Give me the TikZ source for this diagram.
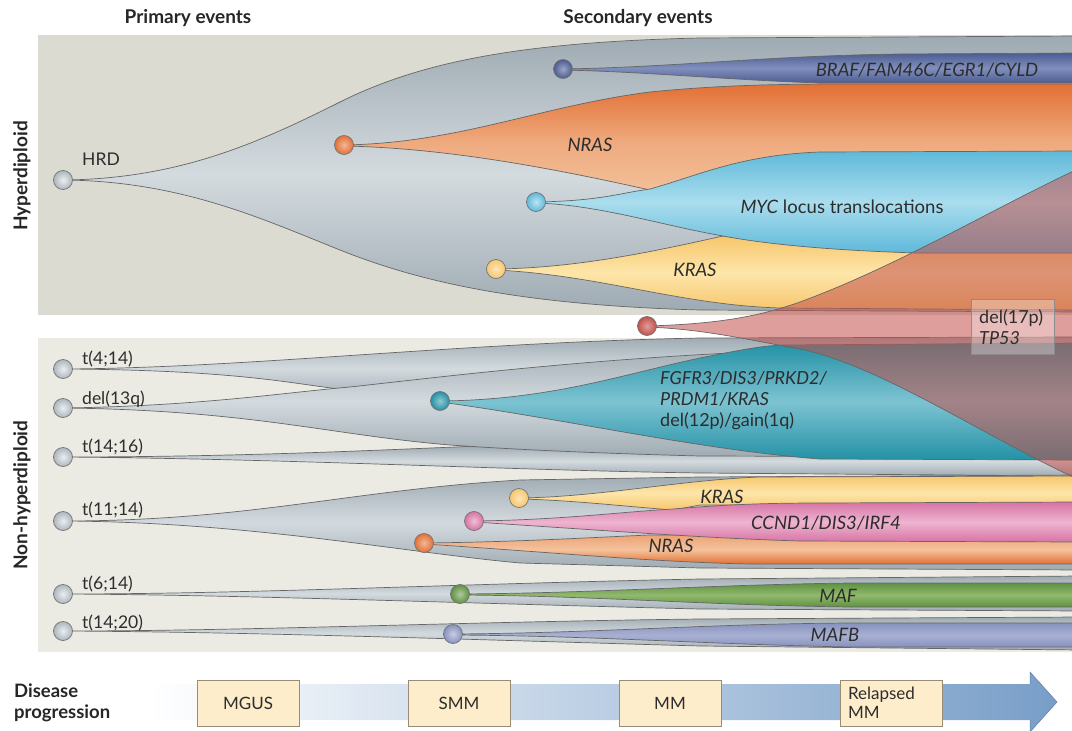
\documentclass[tikz,border=0pt]{standalone}
\usepackage{fontspec}
\setmainfont{Lato}
\begin{document}
\definecolor{panelA}{RGB}{219,219,209}
\definecolor{panelB}{RGB}{235,235,227}
\definecolor{greyD}{RGB}{158,170,178}
\definecolor{greyL}{RGB}{212,219,223}
\definecolor{blueD}{RGB}{75,92,145}
\definecolor{blueL}{RGB}{128,143,188}
\definecolor{orD}{RGB}{226,112,52}
\definecolor{orL}{RGB}{244,195,158}
\definecolor{cyD}{RGB}{95,185,218}
\definecolor{cyL}{RGB}{170,221,238}
\definecolor{yeD}{RGB}{247,198,108}
\definecolor{yeL}{RGB}{253,230,170}
\definecolor{redT}{RGB}{195,80,75}
\definecolor{teD}{RGB}{35,145,165}
\definecolor{teL}{RGB}{125,195,210}
\definecolor{piD}{RGB}{215,115,165}
\definecolor{piL}{RGB}{238,180,208}
\definecolor{grD}{RGB}{95,145,65}
\definecolor{grL}{RGB}{145,185,110}
\definecolor{laD}{RGB}{135,145,190}
\definecolor{laL}{RGB}{168,176,210}
\definecolor{txt}{RGB}{45,45,45}
\definecolor{stagefill}{RGB}{253,237,202}
\definecolor{stageline}{RGB}{150,140,120}
\definecolor{arrowblue}{RGB}{120,158,200}
\begin{tikzpicture}[x=1pt,y=-1pt,
  lab/.style={font=\fontsize{17.5}{20}\selectfont, text=txt, inner sep=0pt},
  ilab/.style={font=\fontsize{18.5}{21}\selectfont\itshape, text=txt, inner sep=0pt},
  head/.style={font=\fontsize{19}{22}\selectfont\bfseries, text=black!85, inner sep=0pt},
  edgeline/.style={draw=black!60, line width=0.7pt},
  greyshape/.style={edgeline, top color=greyD, bottom color=greyD, middle color=greyL},
  dot/.style={circle, minimum size=19pt, inner sep=0pt, draw=black!55, line width=0.7pt, shading=radial},
  stagebox/.style={draw=stageline, fill=stagefill, line width=0.6pt, minimum width=102pt, minimum height=46pt, font=\fontsize{17}{19}\selectfont, text=txt, inner sep=0pt},
]
\useasboundingbox (0,0) rectangle (1072,731);
\clip (0,0) rectangle (1072,731);

% panels
\fill[panelA] (38,35) rectangle (1072,315);
\fill[panelB] (38,338) rectangle (1072,652);

% ---------- Hyperdiploid ----------
\draw[greyshape] (63,180) .. controls (180,179) and (260,142) .. (340,102) .. controls (420,62) and (520,42) .. (700,38) -- (1080,36) -- (1080,312) -- (700,310) .. controls (520,305) and (420,282) .. (340,250) .. controls (260,218) and (180,181) .. (63,180) -- cycle;

\draw[edgeline, top color=blueD, bottom color=blueD, middle color=blueL] (563,69) .. controls (680,67) and (760,56) .. (900,54) -- (1080,53) -- (1080,83) -- (820,83) .. controls (730,80) and (650,72) .. (563,70) -- cycle;

\draw[edgeline, top color=orD, bottom color=orL, middle color=orL!70!orD] (344,145) .. controls (460,143) and (540,106) .. (650,92) .. controls (720,85) and (780,84) .. (850,84) -- (1080,84) -- (1080,200) -- (660,200) -- (650,190) .. controls (560,170) and (450,148) .. (344,146) -- cycle;

\draw[edgeline, top color=yeD, bottom color=yeD, middle color=yeL] (496,269) .. controls (580,268) and (660,250) .. (723,236) -- (1080,236) -- (1080,310) -- (780,308) .. controls (680,305) and (600,275) .. (496,270) -- cycle;

\draw[edgeline, top color=cyD, bottom color=cyD, middle color=cyL] (536,202) .. controls (600,201) and (620,193) .. (650,189) .. controls (700,175) and (740,155) .. (820,152) -- (1080,151) -- (1080,253) -- (917,253) .. controls (820,250) and (760,243) .. (723,236) .. controls (660,225) and (600,205) .. (536,203) -- cycle;

% ---------- Non-hyperdiploid ----------
\draw[greyshape] (63,369) .. controls (250,370) and (300,386) .. (350,390) .. controls (420,396) and (500,400) .. (1080,400) -- (1080,337) -- (700,338) .. controls (450,343) and (250,368) .. (63,369) -- cycle;

\draw[greyshape] (63,457) .. controls (250,457) and (400,449) .. (480,446) -- (1080,446) -- (1080,476) -- (700,473) .. controls (500,470) and (300,459) .. (63,457) -- cycle;

\draw[greyshape] (63,408) .. controls (200,406) and (280,393) .. (350,387) .. controls (450,376) and (600,357) .. (800,350) -- (1080,345) -- (1080,457) -- (700,456) .. controls (550,452) and (480,447) .. (450,445) .. controls (330,435) and (250,410) .. (63,408) -- cycle;

\draw[edgeline, top color=teD, bottom color=teD, middle color=teL] (440,401) .. controls (550,400) and (620,375) .. (700,358) .. controls (740,350) and (760,346) .. (783,345) -- (1080,343) -- (1080,460) -- (820,459) .. controls (700,450) and (560,418) .. (440,402) -- cycle;

\draw[greyshape] (63,521) .. controls (250,521) and (350,490) .. (520,480) -- (700,477) -- (1080,475) -- (1080,570) -- (700,568) -- (520,563) .. controls (400,552) and (250,522) .. (63,521) -- cycle;

\draw[edgeline, top color=yeD, bottom color=yeD, middle color=yeL] (519,498) .. controls (600,497) and (680,480) .. (760,477) -- (1080,476) -- (1080,505) -- (700,505) -- (673,510) .. controls (620,506) and (570,500) .. (519,499) -- cycle;

\draw[edgeline, top color=orL!60!orD, bottom color=orD, middle color=orL] (424,543) .. controls (520,542) and (600,537) .. (650,535) -- (1080,535) -- (1080,564) -- (750,564) .. controls (650,562) and (550,552) .. (424,544) -- cycle;

\draw[edgeline, top color=piD, bottom color=piD, middle color=piL] (474,521) .. controls (560,520) and (620,512) .. (673,509) .. controls (720,505) and (760,503) .. (820,503) -- (1080,502) -- (1080,542) -- (800,541) .. controls (700,538) and (600,530) .. (474,522) -- cycle;

\draw[greyshape] (63,594) .. controls (250,594) and (450,584) .. (700,579) -- (1080,576) -- (1080,611) -- (700,609) .. controls (450,603) and (250,595) .. (63,594) -- cycle;

\draw[edgeline, top color=grD, bottom color=grD, middle color=grL] (460,594) .. controls (600,593) and (700,585) .. (850,583) -- (1080,583) -- (1080,607) -- (850,607) .. controls (700,605) and (600,596) .. (460,595) -- cycle;

\draw[greyshape] (63,631) .. controls (250,631) and (450,622) .. (700,619) -- (1080,617) -- (1080,650) -- (700,646) .. controls (450,639) and (250,632) .. (63,631) -- cycle;

\draw[edgeline, top color=laD, bottom color=laD, middle color=laL] (453,634) .. controls (600,633) and (700,624) .. (850,623) -- (1080,623) -- (1080,647) -- (850,647) .. controls (700,644) and (600,636) .. (453,635) -- cycle;

% ---------- TP53 (translucent) ----------
\draw[draw=black!60, line width=0.7pt, fill=redT, fill opacity=0.55] (647,326) .. controls (720,324) and (760,316) .. (800,302) .. controls (900,265) and (990,210) .. (1080,168) -- (1080,480) .. controls (990,440) and (880,365) .. (800,349) .. controls (740,338) and (700,329) .. (647,327) -- cycle;

% ---------- dots ----------
\node[dot, inner color=white!80!greyD, outer color=greyD!85!white] (hrd) at (63,180) {};
\node[dot, inner color=orD!50!white, outer color=orD] (nras1) at (344,145) {};
\node[dot, inner color=blueD!55!white, outer color=blueD] (braf) at (563,69) {};
\node[dot, inner color=cyD!40!white, outer color=cyD] (myc) at (536,202) {};
\node[dot, inner color=yeD!45!white, outer color=yeD] (kras1) at (496,269) {};
\node[dot, inner color=redT!55!white, outer color=redT] (tp53) at (647,326) {};
\node[dot, inner color=white!80!greyD, outer color=greyD!85!white] (t414) at (63,369) {};
\node[dot, inner color=white!80!greyD, outer color=greyD!85!white] (d13q) at (63,408) {};
\node[dot, inner color=white!80!greyD, outer color=greyD!85!white] (t1416) at (63,457) {};
\node[dot, inner color=white!80!greyD, outer color=greyD!85!white] (t1114) at (63,521) {};
\node[dot, inner color=white!80!greyD, outer color=greyD!85!white] (t614) at (63,594) {};
\node[dot, inner color=white!80!greyD, outer color=greyD!85!white] (t1420) at (63,631) {};
\node[dot, inner color=teD!50!white, outer color=teD] (fgfr) at (440,401) {};
\node[dot, inner color=yeD!45!white, outer color=yeD] (kras2) at (519,498) {};
\node[dot, inner color=piD!45!white, outer color=piD] (ccnd) at (474,521) {};
\node[dot, inner color=orD!50!white, outer color=orD] (nras2) at (424,543) {};
\node[dot, inner color=grD!50!white, outer color=grD] (maf) at (460,594) {};
\node[dot, inner color=laD!45!white, outer color=laD] (mafb) at (453,634) {};

% ---------- headers ----------
\node[head] (prim) at (188,18) {Primary events};
\node[head] (sec) at (638,18) {Secondary events};
\node[head, rotate=90] (hyp) at (22,176) {Hyperdiploid};
\node[head, rotate=90] (nonhyp) at (22,495) {Non-hyperdiploid};

% ---------- labels ----------
\node[lab, anchor=base west] (lhrd) at (82,165) {HRD};
\node[ilab] (lbraf) at (927,70) {BRAF/FAM46C/EGR1/CYLD};
\node[ilab] (lnras1) at (590,145) {NRAS};
\node[ilab] (lmyc) at (842,207) {MYC\upshape\ locus translocations};
\node[ilab] (lkras1) at (695,270) {KRAS};

\node[lab, anchor=base west] (l414) at (82,364) {t(4;14)};
\node[lab, anchor=base west] (l13q) at (82,404) {del(13q)};
\node[lab, anchor=base west] (l1416) at (82,452) {t(14;16)};
\node[lab, anchor=base west] (l1114) at (82,515) {t(11;14)};
\node[lab, anchor=base west] (l614) at (82,589) {t(6;14)};
\node[lab, anchor=base west] (l1420) at (82,628) {t(14;20)};

\node[lab, anchor=north west, align=left, font=\fontsize{18}{21}\selectfont] (lfgfr) at (660,371) {\textit{FGFR3/DIS3/PRKD2/}\\\textit{PRDM1/KRAS}\\del(12p)/gain(1q)};
\node[ilab] (lkras2) at (722,497) {KRAS};
\node[ilab] (lccnd) at (826,523) {CCND1/DIS3/IRF4};
\node[ilab] (lnras2) at (671,546) {NRAS};
\node[ilab] (lmaf) at (838,596) {MAF};
\node[ilab] (lmafb) at (835,635) {MAFB};

\node[draw=black!45, line width=0.7pt, fill=white, fill opacity=0.3, text opacity=1, minimum width=83pt, minimum height=55pt, inner sep=0pt] (tpbox) at (1013,327) {};
\node[lab, anchor=north west, align=left, font=\fontsize{18}{21}\selectfont] (ltp) at (979,309) {del(17p)\\\textit{TP53}};

% ---------- progression ----------
\shade[left color=white, right color=arrowblue, shading angle=90] (150,684) -- (1030,684) -- (1030,672) -- (1057,702) -- (1030,732) -- (1030,720) -- (150,720) -- cycle;
\draw[draw=arrowblue!80!black, line width=0.5pt] (1030,684) -- (1030,672) -- (1057,702) -- (1030,732) -- (1030,720);
\node[head, anchor=west, align=left, font=\fontsize{18.5}{21}\selectfont\bfseries] (dis) at (14,703) {Disease\\progression};
\node[stagebox] (mgus) at (248,703) {MGUS};
\node[stagebox] (smm) at (459,703) {SMM};
\node[stagebox] (mm) at (670,703) {MM};
\node[stagebox, text width=86pt, align=left, font=\fontsize{17}{19}\selectfont] (rmm) at (891,703) {Relapsed\\MM};
\end{tikzpicture}
\end{document}
